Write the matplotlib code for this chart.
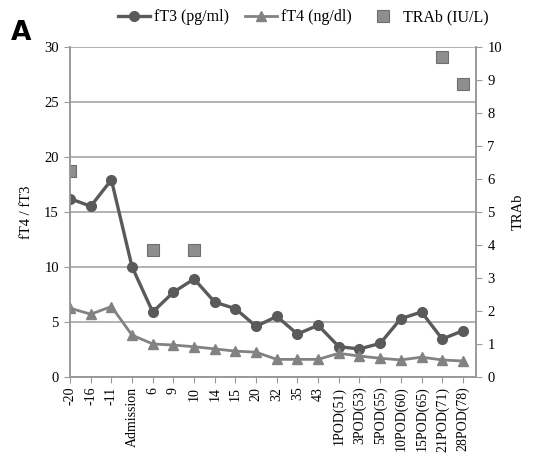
import numpy as np
import matplotlib
matplotlib.use("Agg")
import matplotlib.pyplot as plt

# values
days = ["-20", "-16", "-11", "Admission", "6", "9", "10", "14", "15", "20", "32", "35", "43",
        "1POD(51)", "3POD(53)", "5POD(55)", "10POD(60)", "15POD(65)", "21POD(71)", "28POD(78)"]
ft3 = [16.2, 15.5, 17.9, 10.0, 5.9, 7.7, 8.9, 6.8, 6.2, 4.6, 5.5, 3.9, 4.7,
       2.75, 2.55, 3.05, 5.3, 5.9, 3.45, 4.2]
ft4 = [6.25, 5.7, 6.4, 3.8, 3.0, 2.9, 2.75, 2.55, 2.35, 2.25, 1.6, 1.6, 1.6,
       2.15, 1.9, 1.7, 1.55, 1.8, 1.55, 1.45]
trab_days = ["-20", "6", "10", "21POD(71)", "28POD(78)"]
trab = [6.22, 3.83, 3.83, 9.7, 8.88]

plt.rcParams['font.family'] = ['Liberation Serif', 'DejaVu Serif']

fig = plt.figure(figsize=(5.37, 4.66), dpi=100)
ax = fig.add_axes([0.1304, 0.191, 0.7566, 0.709])
ax2 = ax.twinx()

x = np.arange(len(days))
trab_x = [days.index(d) for d in trab_days]

ax.plot(x, ft3, color='#5a5a5a', lw=2.4, marker='o', ms=7, label='fT3 (pg/ml)', zorder=3)
ax.plot(x, ft4, color='#828282', lw=2.0, marker='^', ms=7, label='fT4 (ng/dl)', zorder=3)
ax2.plot(trab_x, trab, ls='none', marker='s', ms=8, mfc='#8e8e8e', mec='#6e6e6e', mew=0.8,
         label='TRAb (IU/L)')

ax.set_xlim(0, 19.65)
ax.set_ylim(0, 30)
ax2.set_ylim(0, 10)
ax.set_yticks(np.arange(0, 31, 5))
ax2.set_yticks(np.arange(0, 11, 1))
ax.yaxis.grid(True, color='#a6a6a6', lw=1.2)
ax.set_axisbelow(True)

ax.set_xticks(x)
ax.set_xticklabels(days, rotation=90, fontsize=10)
ax.tick_params(axis='x', length=4, color='#9a9a9a', pad=3)
ax.tick_params(axis='y', length=4, color='#9a9a9a', labelsize=10.5, pad=4)
ax2.tick_params(axis='y', length=4, color='#9a9a9a', labelsize=10.5, pad=4)

for a in (ax, ax2):
    for s in a.spines.values():
        s.set_color('#9a9a9a')
        s.set_linewidth(1.2)
ax.spines['top'].set_visible(False)
ax2.spines['top'].set_visible(False)

ax.set_ylabel('fT4 / fT3', fontsize=10.5, labelpad=8)
ax2.set_ylabel('TRAb', fontsize=10.5, labelpad=7)

h1, l1 = ax.get_legend_handles_labels()
h2, l2 = ax2.get_legend_handles_labels()
fig.legend(h1 + h2, l1 + l2, loc='center', bbox_to_anchor=(0.565, 0.963), ncol=3,
           frameon=False, fontsize=11.5, handlelength=2.0, columnspacing=1.0, handletextpad=0.25)

fig.text(0.02, 0.915, 'A', fontsize=19, fontweight='bold', family='DejaVu Sans')

fig.savefig('out.png', dpi=100)
